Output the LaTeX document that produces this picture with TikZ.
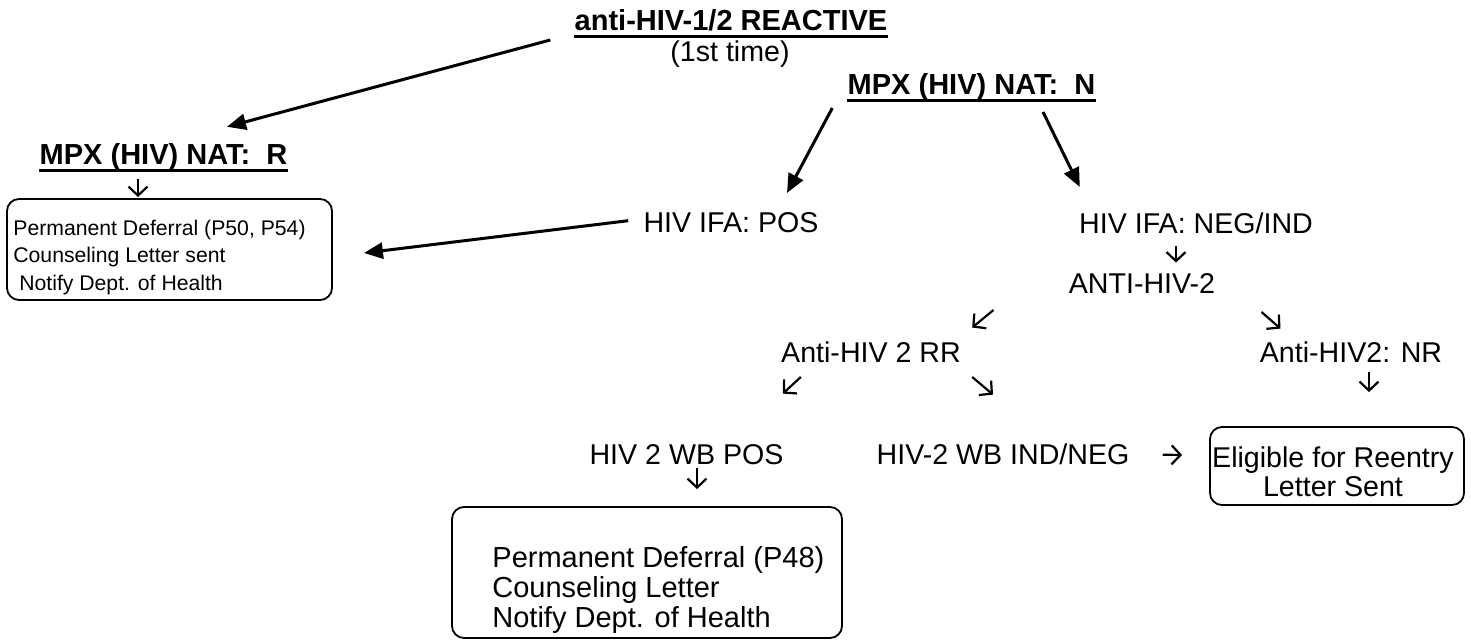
\documentclass[tikz,border=0pt]{standalone}
\usepackage{fontspec}
\setmainfont{Liberation Sans}
\usetikzlibrary{arrows.meta}

\newcommand{\lblfont}{\fontsize{14.3pt}{17pt}\selectfont}
\newcommand{\ttlfont}{\fontsize{14.5pt}{17pt}\selectfont\bfseries}
\newcommand{\notefont}{\fontsize{10.6pt}{13.75pt}\selectfont}
\newcommand{\boxfont}{\fontsize{14.5pt}{15pt}\selectfont}
\newcommand{\eligfont}{\fontsize{14.3pt}{14.5pt}\selectfont}

\tikzset{
  lbl/.style={inner sep=0pt, text height=10.3pt, text depth=0pt, anchor=base, font=\lblfont},
  ttl/.style={lbl, text height=10.4pt, font=\ttlfont},
  uline/.style={line width=1.4pt},
  rbox/.style={draw, line width=0.9pt, rounded corners=6pt, inner sep=0pt},
  boxtxt/.style={inner sep=0pt, align=left},
  bigarrow/.style={line width=1.5pt, -{Triangle[length=9.5pt,width=8pt]}},
  smallarrow/.style={line width=1.1pt, -{Straight Barb[length=4.5pt,width=9.5pt]}},
}

\begin{document}
\begin{tikzpicture}[x=0.5pt, y=-0.5pt]
    \useasboundingbox (0,0) rectangle (1471,640);

    % Titles
    \node[ttl] (title1) at (731,31) {anti-HIV-1/2 REACTIVE};
    \node[lbl] (first) at (730,62) {(1st time)};
    \node[ttl] (natn) at (971.5,95) {MPX (HIV) NAT:~~N};
    \node[ttl] (natr) at (163.5,165) {MPX (HIV) NAT:~~R};
    \foreach \n in {title1, natn, natr}
        \draw[uline] ([yshift=-2.8pt]\n.base west) -- ([yshift=-2.8pt]\n.base east);

    % Results
    \node[lbl] (ifapos) at (731,233) {HIV IFA: POS};
    \node[lbl] (ifaneg) at (1196,234) {HIV IFA: NEG/IND};
    \node[lbl] (anti2) at (1142,294) {ANTI-HIV-2};
    \node[lbl] (rr) at (871,363) {Anti-HIV 2 RR};
    \node[lbl] (nr) at (1351,363) {Anti-HIV2: NR};
    \node[lbl] (wbpos) at (686.5,465) {HIV 2 WB POS};
    \node[lbl] (wbneg) at (1003,465) {HIV-2 WB IND/NEG};

    % Boxes
    \node[rbox, minimum width=162.5pt, minimum height=50.5pt] (defer1) at (169.5,249.5) {};
    \node[boxtxt, font=\notefont, anchor=north west] (defer1txt) at (13,219.5)
        {Permanent Deferral (P50, P54)\\Counseling Letter sent\\\hspace*{0.28em}Notify Dept. of Health};
    \node[rbox, minimum width=195pt, minimum height=65.5pt] (defer2) at (647,572.5) {};
    \node[boxtxt, font=\boxfont, anchor=north west] (defer2txt) at (492,546)
        {Permanent Deferral (P48)\\Counseling Letter\\Notify Dept. of Health};
    \node[rbox, minimum width=127pt, minimum height=39pt] (elig) at (1337,466) {};
    \node[boxtxt, align=center, font=\eligfont, anchor=north] (eligtxt) at (1333,446)
        {Eligible for Reentry\\Letter Sent};

    % Main arrows
    \draw[bigarrow] ([shift={(-24,9)}]title1.base west) -- ([shift={(63.5,-17)}]natr.north);
    \draw[bigarrow] ([shift={(-15,13)}]natn.base west) -- ([shift={(56,-19)}]ifapos.north);
    \draw[bigarrow] ([shift={(71.5,17)}]natn.base) -- ([shift={(1,-26)}]ifaneg.north west);
    \draw[bigarrow] ([shift={(-15,-2)}]ifapos.west) -- ([shift={(31,3.5)}]defer1.east);

    % Small arrows
    \draw[smallarrow] ([shift={(-25.5,14)}]natr.base) -- ([shift={(-31.5,-1)}]defer1.north);
    \draw[smallarrow] ([shift={(-20,12)}]ifaneg.base) -- ([shift={(34,-10.4)}]anti2.north);
    \draw[smallarrow] ([shift={(-75,16)}]anti2.base west) -- ([shift={(11,-14.4)}]rr.north east);
    \draw[smallarrow] ([shift={(46,18)}]anti2.base east) -- ([shift={(21,-13.4)}]nr.north west);
    \draw[smallarrow] ([shift={(20,14)}]rr.base west) -- ([shift={(-1,-50.4)}]wbpos.north east);
    \draw[smallarrow] ([shift={(11,14)}]rr.base east) -- ([shift={(-10,-49.4)}]wbneg.north);
    \draw[smallarrow] ([shift={(18,9)}]nr.base) -- ([shift={(32,-34)}]elig.north);
    \draw[smallarrow] ([shift={(10.5,3)}]wbpos.base) -- ([shift={(50,-17)}]defer2.north);
    \draw[smallarrow] ([shift={(33,0)}]wbneg.east) -- ([shift={(-27,-11)}]elig.west);
\end{tikzpicture}
\end{document}
